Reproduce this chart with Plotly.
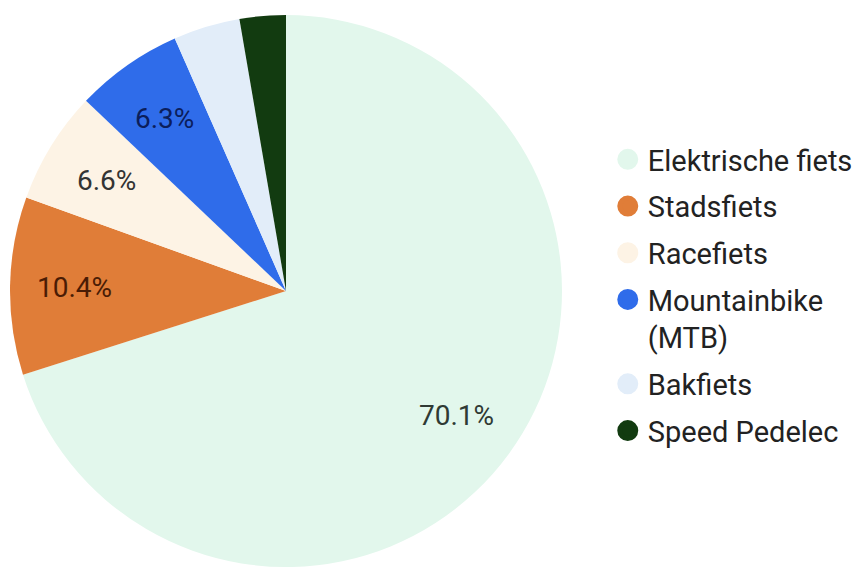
import math
import plotly.graph_objects as go

categories = ["Elektrische fiets", "Stadsfiets", "Racefiets", "Mountainbike (MTB)", "Bakfiets", "Speed Pedelec"]
legend_labels = ["Elektrische fiets", "Stadsfiets", "Racefiets", "Mountainbike<br>(MTB)", "Bakfiets", "Speed Pedelec"]
shares = [70.1, 10.4, 6.6, 6.3, 3.9, 2.7]
colors = ["#E2F7EC", "#E07D38", "#FDF3E5", "#2F6CEA", "#E2EDF9", "#123B10"]
label_colors = ["#2F3A34", "#4A1C05", "#333333", "#0B1E5C", "#333333", "#FFFFFF"]

W, H = 867, 575
CX, CY, R = 286, 291, 276  # pie centre and radius in pixels
FONT = "Roboto"

fig = go.Figure()
fig.add_trace(go.Pie(
    labels=categories, values=shares, sort=False, direction="clockwise", rotation=0,
    marker=dict(colors=colors, line=dict(width=0)),
    textinfo="none", hoverinfo="label+percent", showlegend=False,
    domain=dict(x=[(CX - R) / W, (CX + R) / W], y=[1 - (CY + R) / H, 1 - (CY - R) / H]),
))

# legend entries (circular markers)
for name, col in zip(legend_labels, colors):
    fig.add_trace(go.Scatter(
        x=[None], y=[None], mode="markers", name=name, legendgroup=name,
        marker=dict(color=col, size=16, symbol="circle", line=dict(color=col, width=5)),
        showlegend=True,
    ))

# percentage labels on the slices
total = sum(shares)
cum = 0.0
for v, tc in zip(shares, label_colors):
    mid = (cum + v / 2) / total * 2 * math.pi
    cum += v
    if v < 5:
        continue
    r = 0.765 * R
    px = CX + r * math.sin(mid)
    py = CY - r * math.cos(mid)
    fig.add_annotation(
        x=px / W, y=1 - py / H, xref="paper", yref="paper", showarrow=False,
        text=f"{v:.1f}%", font=dict(family=FONT, size=28, color=tc),
        xanchor="center", yanchor="middle",
    )

fig.update_layout(
    width=W, height=H, margin=dict(l=0, r=0, t=0, b=0),
    paper_bgcolor="white", plot_bgcolor="white",
    xaxis=dict(visible=False), yaxis=dict(visible=False),
    font=dict(family=FONT, size=29, color="#222222"),
    legend=dict(
        x=0.701, y=1 - 134 / H, xanchor="left", yanchor="top",
        font=dict(family=FONT, size=29, color="#222222"),
        itemsizing="trace", valign="top", tracegroupgap=6,
        bgcolor="rgba(0,0,0,0)",
    ),
)

fig.write_html("out.html", post_script="document.body.style.margin='0';",
               config={"displayModeBar": False})
